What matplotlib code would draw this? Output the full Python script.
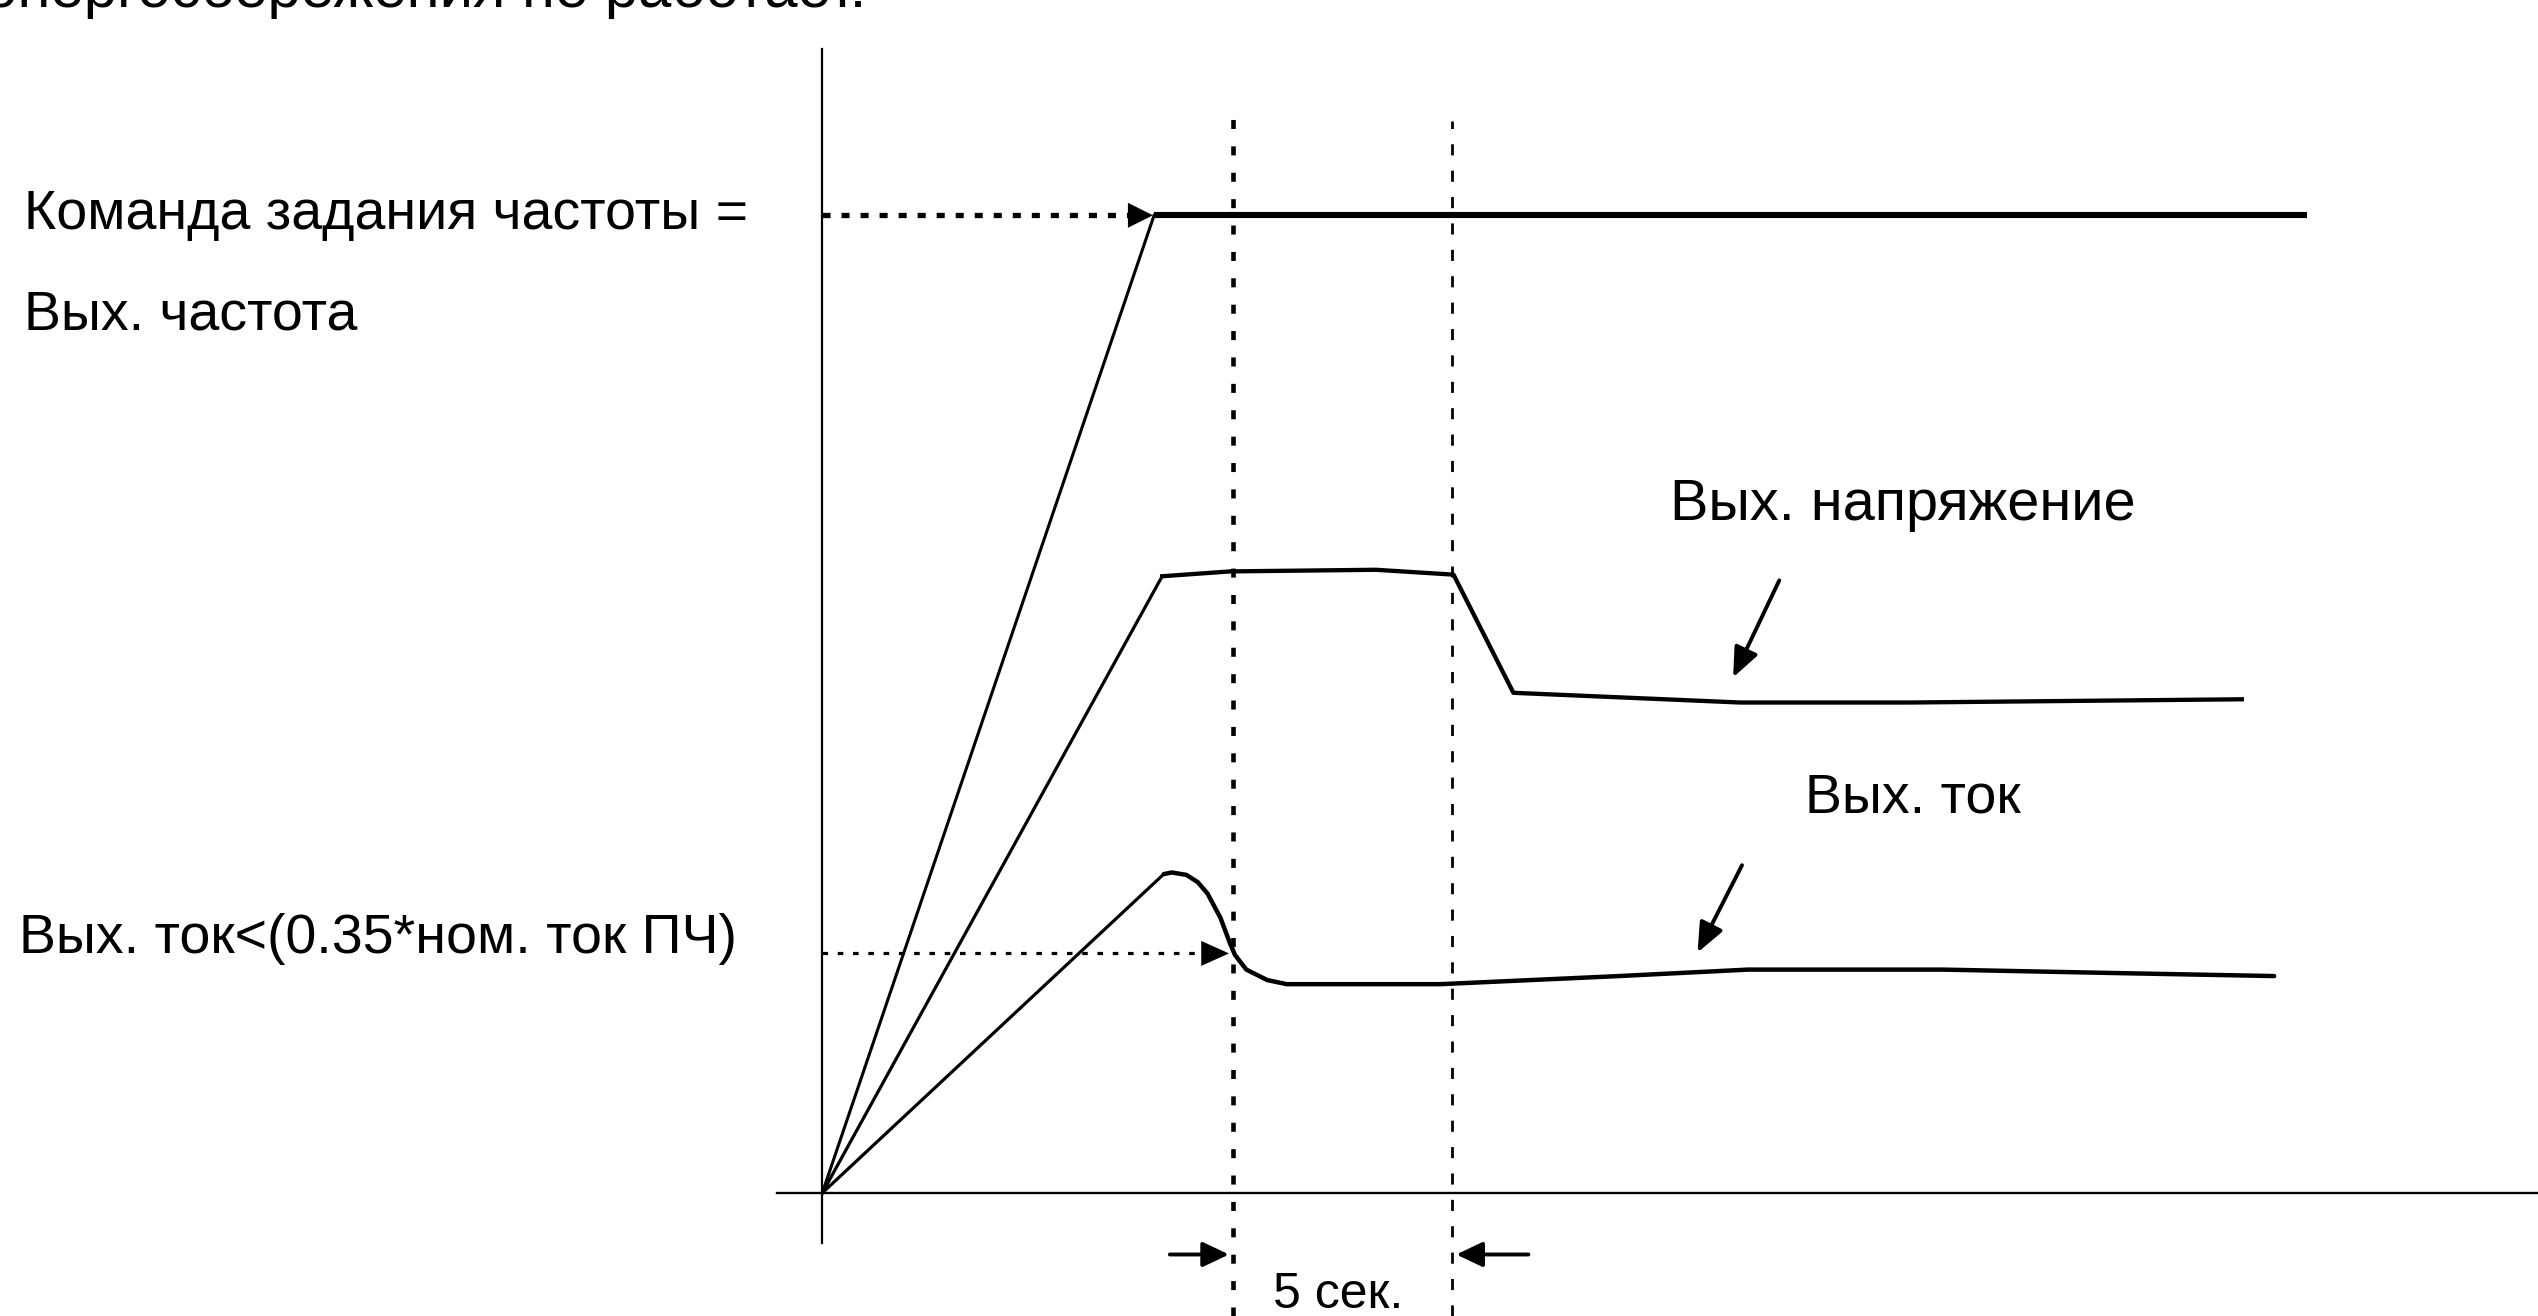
import matplotlib
matplotlib.use("Agg")
import matplotlib.pyplot as plt
from matplotlib.patches import FancyArrowPatch

plt.rcParams['font.family'] = ['Liberation Sans', 'DejaVu Sans']
plt.rcParams['lines.scale_dashes'] = False

# Time axis (schematic units) and signal levels
t_freq = [0.0, 20.5, 91.7]
f_out = [0.0, 60.4, 60.4]
f_cmd_level = 60.4

t_volt = [0.0, 21.0, 25.2, 34.2, 39.0, 42.7, 56.7, 67.2, 87.7]
v_out = [0.0, 38.1, 38.4, 38.5, 38.2, 30.9, 30.3, 30.3, 30.5]

t_curr = [0.0, 21.1, 21.6, 22.5, 23.2, 23.8, 24.6, 25.2, 25.5, 26.2, 27.5,
          28.7, 38.2, 49.2, 57.2, 69.2, 79.2, 89.7]
i_out = [0.0, 19.7, 19.8, 19.65, 19.2, 18.5, 17.0, 15.4, 14.7, 13.8, 13.15,
         12.9, 12.9, 13.4, 13.8, 13.8, 13.6, 13.4]
i_threshold = 14.8

t_switch = 25.4      # current falls below threshold
t_saving = 38.9      # energy saving starts 5 s later

W, H = 2538, 1316
fig = plt.figure(figsize=(W / 100, H / 100), dpi=100)
ax = fig.add_axes([0, 0, 1, 1])
ax.set_xlim(-50.8, 106.0)
ax.set_ylim(-7.6, 73.7)
ax.axis('off')

K = 'black'

# Coordinate axes
ax.plot([0, 0], [-3.1, 70.7], color=K, lw=1.6)
ax.plot([-2.8, 106.0], [0, 0], color=K, lw=1.7)

# Output frequency: ramp then steady
ax.plot(t_freq[:2], f_out[:2], color=K, lw=2.2)
ax.plot(t_freq[1:], f_out[1:], color=K, lw=4.4, solid_capstyle='butt')

# Output voltage
ax.plot(t_volt[:2], v_out[:2], color=K, lw=2.3)
ax.plot(t_volt[1:], v_out[1:], color=K, lw=3.1, solid_joinstyle='round')

# Output current
ax.plot(t_curr[:2], i_out[:2], color=K, lw=2.3)
ax.plot(t_curr[1:], i_out[1:], color=K, lw=3.2, solid_joinstyle='round',
        solid_capstyle='round')

# Frequency command (dotted) with arrow
ax.plot([0, t_freq[1] - 0.9], [f_cmd_level, f_cmd_level], color=K, lw=3.8,
        dashes=(5.8, 7.9), dash_capstyle='butt')
ax.add_patch(FancyArrowPatch((t_freq[1] - 1.5, f_cmd_level), (t_freq[1] + 0.1, f_cmd_level),
                             arrowstyle='-|>,head_length=0.9,head_width=0.45',
                             mutation_scale=20, color=K, lw=0))

# Current threshold (dotted) with arrow
ax.plot([0, t_switch - 1.0], [i_threshold, i_threshold], color=K, lw=2.3,
        dashes=(4, 7))
ax.add_patch(FancyArrowPatch((t_switch - 1.8, i_threshold), (t_switch - 0.1, i_threshold),
                             arrowstyle='-|>,head_length=1.0,head_width=0.45',
                             mutation_scale=20, color=K, lw=0))

# Vertical markers
ax.plot([t_switch, t_switch], [-7.6, 66.7], color=K, lw=3.3, dashes=(6.5, 12.5))
ax.plot([t_saving, t_saving], [-7.6, 66.2], color=K, lw=2.0, dashes=(8, 11))

# 5 s interval arrows
ax.add_patch(FancyArrowPatch((21.3, -3.8), (t_switch - 0.1, -3.8),
                             arrowstyle='-|>,head_length=0.8,head_width=0.38',
                             mutation_scale=20, color=K, lw=2.8))
ax.add_patch(FancyArrowPatch((43.8, -3.8), (t_saving + 0.1, -3.8),
                             arrowstyle='-|>,head_length=0.8,head_width=0.38',
                             mutation_scale=20, color=K, lw=2.8))

# Pointer arrows to curves
ax.add_patch(FancyArrowPatch((59.2, 38.0), (56.2, 31.7),
                             arrowstyle='-|>,head_length=0.9,head_width=0.38',
                             mutation_scale=20, color=K, lw=2.8))
ax.add_patch(FancyArrowPatch((56.9, 20.4), (54.0, 14.7),
                             arrowstyle='-|>,head_length=0.9,head_width=0.38',
                             mutation_scale=20, color=K, lw=2.8))

fs = 40
ax.text(2.7, 73.25, 'энергосбережения не работает.', fontsize=43, ha='right',
        va='baseline', color=K)
ax.text(-49.3, 60.4, 'Команда задания частоты =', fontsize=fs, ha='left',
        va='center', color=K)
ax.text(-49.3, 54.2, 'Вых. частота', fontsize=fs, ha='left', va='center', color=K)
ax.text(-49.6, 15.7, 'Вых. ток<(0.35*ном. ток ПЧ)', fontsize=fs, ha='left',
        va='center', color=K)
ax.text(52.4, 42.5, 'Вых. напряжение', fontsize=41.5, ha='left', va='center', color=K)
ax.text(60.7, 24.4, 'Вых. ток', fontsize=fs, ha='left', va='center', color=K)
ax.text(31.9, -6.3, '5 сек.', fontsize=36, ha='center', va='center', color=K)

fig.savefig('out.png', dpi=100, facecolor='white')
